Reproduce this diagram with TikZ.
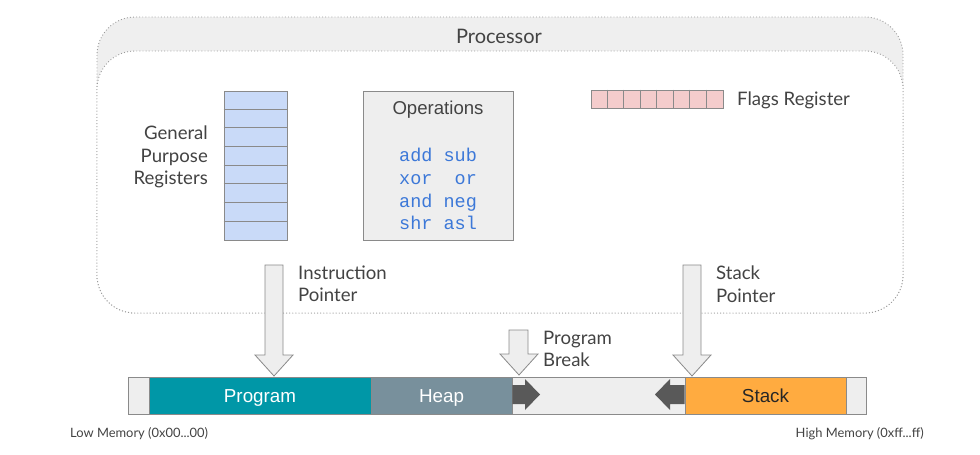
\documentclass[tikz,border=0pt]{standalone}
\usepackage{fontspec}
\usetikzlibrary{calc}
\setmainfont{Lato}
\setmonofont{Liberation Mono}
\newfontfamily\arialfont{Liberation Sans}
\definecolor{txt}{HTML}{434343}
\definecolor{edge}{HTML}{8A8A8A}
\definecolor{dots}{HTML}{9A9A9A}
\definecolor{band}{HTML}{EFEFEF}
\definecolor{regblue}{HTML}{C9DAF8}
\definecolor{flagpink}{HTML}{F4CCCC}
\definecolor{opsgray}{HTML}{EEEEEE}
\definecolor{codeblue}{HTML}{3C78D8}
\definecolor{progteal}{HTML}{0097A7}
\definecolor{heapgray}{HTML}{78909C}
\definecolor{stackorange}{HTML}{FFAB40}
\definecolor{darkarrow}{HTML}{595959}
\definecolor{memgray}{HTML}{EEEEEE}
\begin{document}
\begin{tikzpicture}[x=1pt,y=-1pt,
  lbl/.style={text=txt,font=\fontsize{18.6}{22.5}\selectfont,inner sep=0pt},
  procbox/.style={draw=dots,line width=0.9pt,dash pattern=on 0.9pt off 2.2pt,rounded corners=38pt},
  blockarrow/.style={draw=edge,line width=0.8pt,fill=opsgray,line join=miter},
  memseg/.style={draw=edge,line width=0.8pt,inner sep=0pt,minimum height=37pt,text height=13.5pt,text depth=0pt,font=\arialfont\fontsize{18.8}{22}\selectfont},
  darrow/.style={fill=darkarrow},
  code/.style={text=codeblue,font=\ttfamily\fontsize{18.5}{22}\selectfont,inner sep=0pt,anchor=base west},
  memlbl/.style={text=txt,font=\fontsize{12.9}{15}\selectfont,inner sep=0pt}
]
\useasboundingbox (0,0) rectangle (980,455);
% processor
\path[procbox,fill=band] (97,17) rectangle (903,313);
\path[procbox,fill=white] (97,51) rectangle (903,313);
\node[text=txt,font=\fontsize{20}{24}\selectfont,inner sep=0pt] (proc) at (499,36) {Processor};
% general purpose registers
\node[draw=edge,line width=0.8pt,fill=regblue,minimum width=63pt,minimum height=149pt,inner sep=0pt] (gpr) at (255.5,165.5) {};
\foreach \i in {1,...,7}{
  \draw[edge,line width=0.8pt] ($(gpr.north west)+(0,\i*18.625)$) -- ($(gpr.north east)+(0,\i*18.625)$);
}
\node[lbl,align=right,anchor=east] (gprl) at (208,157) {General\\Purpose\\Registers};
% operations
\node[draw=edge,line width=0.8pt,fill=opsgray,minimum width=150pt,minimum height=149pt,inner sep=0pt] (ops) at (438,165.5) {};
\node[text=txt,font=\arialfont\fontsize{18.6}{22}\selectfont,inner sep=0pt] (opst) at (438,110) {Operations};
\node[code] (c1) at (399,161) {add sub};
\node[code] (c2) at (399,184) {xor\ \ or};
\node[code] (c3) at (399,207) {and neg};
\node[code] (c4) at (399,229) {shr asl};
% flags register
\node[draw=edge,line width=0.8pt,fill=flagpink,minimum width=132pt,minimum height=18pt,inner sep=0pt] (flags) at (657,99) {};
\foreach \i in {1,...,7}{
  \draw[edge,line width=0.8pt] ($(flags.north west)+(\i*16.5,0)$) -- ($(flags.south west)+(\i*16.5,0)$);
}
\node[lbl,anchor=west] (flagsl) at (737,100) {Flags Register};
% memory bar
\node[memseg,fill=memgray,minimum width=738pt] (mem) at (497,395.5) {};
\node[memseg,fill=progteal,minimum width=222pt,text=white] (prog) at (260,395.5) {Program};
\node[memseg,fill=heapgray,minimum width=141pt,text=white] (heap) at (441.5,395.5) {Heap};
\node[memseg,fill=stackorange,minimum width=161pt,text=black!85] (stack) at (765.5,395.5) {Stack};
% growth arrows
\fill[darrow] (heap.east |- 0,385) -- (525,385) -- (525,379) -- (540,394.5) -- (525,410) -- (525,404) -- (heap.east |- 0,404) -- cycle;
\fill[darrow] (stack.west |- 0,385) -- (670,385) -- (670,379) -- (655,394.5) -- (670,410) -- (670,404) -- (stack.west |- 0,404) -- cycle;
% pointer arrows
\coordinate (ip) at (274,376);
\draw[blockarrow] (265,265) -- (283,265) -- (283,355) -- (293,355) -- (ip) -- (255,355) -- (265,355) -- cycle;
\node[lbl,align=left,anchor=west] (ipl) at (298,284) {Instruction\\Pointer};
\coordinate (pb) at (519,375);
\draw[blockarrow] (509,330) -- (528,330) -- (528,354) -- (538,354) -- (pb) -- (500,354) -- (509,354) -- cycle;
\node[lbl,align=left,anchor=west] (pbl) at (543,349) {Program\\Break};
\coordinate (sp) at (692,376);
\draw[blockarrow] (683,265) -- (701,265) -- (701,355) -- (711,355) -- (sp) -- (673,355) -- (683,355) -- cycle;
\node[lbl,align=left,anchor=west] (spl) at (716,284) {Stack\\Pointer};
% memory labels
\node[memlbl,anchor=west] (low) at (70,434) {Low Memory (0x00...00)};
\node[memlbl,anchor=east] (high) at (924,434) {High Memory (0xff...ff)};
\end{tikzpicture}
\end{document}
